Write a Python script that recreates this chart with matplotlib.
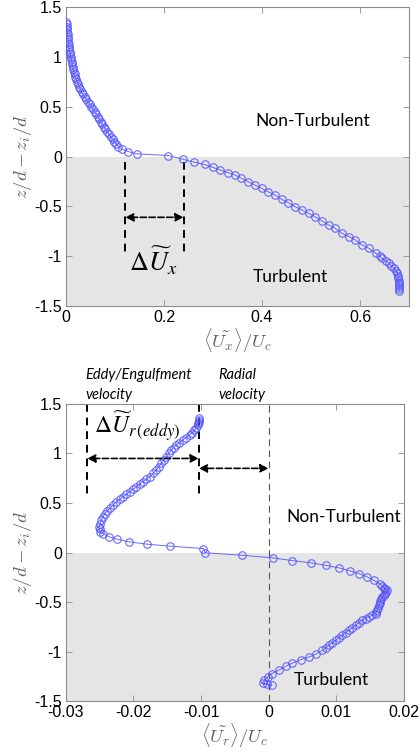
import matplotlib.pyplot as plt
import numpy as np

plt.rcParams['mathtext.fontset'] = 'cm'

BLUE = '#5050ff'
SHADE = '#e5e5e5'
AXCOL = '#8c8c8c'
LABCOL = '#606060'
TEXT_FONT = ['Lato', 'DejaVu Sans']
TICK_FONT = ['Liberation Sans', 'DejaVu Sans']

# top panel: <Ux>/Uc vs z/d - zi/d
ux_z = [1.35, 1.325, 1.30, 1.275, 1.25, 1.225, 1.20, 1.175, 1.15, 1.125, 1.10, 1.075,
        1.05, 1.025, 1.00, 0.975, 0.95, 0.925, 0.90, 0.875, 0.85, 0.825, 0.80, 0.775,
        0.75, 0.725, 0.70, 0.675, 0.65, 0.625, 0.60, 0.575, 0.55, 0.525, 0.50, 0.475,
        0.45, 0.425, 0.40, 0.375, 0.35, 0.325, 0.30, 0.275, 0.25, 0.225, 0.20, 0.175,
        0.15, 0.125, 0.10, 0.074, 0.05, 0.027, 0.01, -0.027, -0.057, -0.08, -0.11,
        -0.134, -0.161, -0.184, -0.218, -0.251, -0.285, -0.318, -0.352, -0.385, -0.429,
        -0.462, -0.502, -0.536, -0.569, -0.603, -0.646, -0.686, -0.72, -0.77, -0.803,
        -0.837, -0.887, -0.921, -0.971, -1.0, -1.021, -1.045, -1.071, -1.095, -1.122,
        -1.145, -1.172, -1.195, -1.222, -1.245, -1.272, -1.292, -1.312, -1.33, -1.346]
ux_val = [0.001, 0.0015, 0.002, 0.0025, 0.003, 0.0035, 0.004, 0.0045, 0.005, 0.0055,
          0.006, 0.007, 0.008, 0.009, 0.010, 0.011, 0.012, 0.013, 0.014, 0.015, 0.016,
          0.0175, 0.019, 0.021, 0.023, 0.025, 0.027, 0.0295, 0.032, 0.035, 0.038, 0.0415,
          0.045, 0.0485, 0.052, 0.0555, 0.059, 0.062, 0.065, 0.068, 0.071, 0.074, 0.077,
          0.0805, 0.084, 0.0875, 0.091, 0.095, 0.099, 0.103, 0.107, 0.114, 0.127, 0.144,
          0.209, 0.238, 0.262, 0.283, 0.30, 0.314, 0.33, 0.344, 0.358, 0.371, 0.385,
          0.399, 0.412, 0.426, 0.44, 0.453, 0.467, 0.481, 0.495, 0.508, 0.522, 0.536,
          0.549, 0.563, 0.577, 0.59, 0.604, 0.618, 0.632, 0.64, 0.645, 0.652, 0.659,
          0.664, 0.669, 0.673, 0.676, 0.677, 0.678, 0.679, 0.679, 0.68, 0.68, 0.68, 0.68]

# bottom panel: <Ur>/Uc vs z/d - zi/d
ur_z = [1.355, 1.338, 1.321, 1.305, 1.288, 1.262, 1.237, 1.211, 1.186, 1.161, 1.136,
        1.11, 1.085, 1.06, 1.035, 1.0, 0.967, 0.933, 0.90, 0.866, 0.832, 0.798, 0.765,
        0.74, 0.715, 0.69, 0.664, 0.638, 0.613, 0.588, 0.563, 0.537, 0.512, 0.478,
        0.445, 0.42, 0.394, 0.36, 0.327, 0.293, 0.26, 0.235, 0.209, 0.192, 0.158, 0.135,
        0.108, 0.084, 0.064, 0.040, -0.003, -0.027, -0.054, -0.081, -0.104, -0.131,
        -0.155, -0.185, -0.212, -0.246, -0.28, -0.32, -0.338, -0.354, -0.368, -0.381,
        -0.398, -0.415, -0.432, -0.448, -0.468, -0.489, -0.511, -0.533, -0.558, -0.583,
        -0.60, -0.617, -0.633, -0.65, -0.667, -0.684, -0.71, -0.735, -0.76, -0.785,
        -0.81, -0.836, -0.861, -0.886, -0.911, -0.937, -0.962, -0.988, -1.028, -1.055,
        -1.082, -1.116, -1.149, -1.19, -1.223, -1.257, -1.291, -1.318, -1.33, -1.341]
ur_val = [-0.01023, -0.01028, -0.01033, -0.0104, -0.01048, -0.0107, -0.01097, -0.0113,
          -0.0117, -0.0122, -0.0127, -0.0132, -0.01367, -0.01405, -0.01441, -0.0148,
          -0.01515, -0.0155, -0.01589, -0.01625, -0.01662, -0.0171, -0.01761, -0.0181,
          -0.01859, -0.0191, -0.01957, -0.02005, -0.02056, -0.02105, -0.02154, -0.02203,
          -0.02252, -0.02302, -0.02351, -0.02388, -0.02425, -0.0245, -0.02474, -0.0249,
          -0.02508, -0.02503, -0.02498, -0.02449, -0.0236, -0.02243, -0.02066, -0.01795,
          -0.01456, -0.00964, -0.00934, -0.00398, 0.00059, 0.00344, 0.00625, 0.00856,
          0.01043, 0.0120, 0.01338, 0.01461, 0.0156, 0.01657, 0.0168, 0.01707, 0.0173,
          0.01756, 0.0174, 0.01731, 0.0171, 0.01682, 0.0167, 0.01657, 0.01645, 0.01633,
          0.0162, 0.01608, 0.01596, 0.01584, 0.01535, 0.01485, 0.01436, 0.01387, 0.01338,
          0.01289, 0.0124, 0.0119, 0.01141, 0.01092, 0.01043, 0.00993, 0.00944, 0.00895,
          0.00846, 0.00797, 0.00698, 0.006, 0.00477, 0.00354, 0.00256, 0.00148, 0.00049,
          -0.00015, -0.00064, -0.00089, -0.0003, 0.00049]

y_ticks = [-1.5, -1, -0.5, 0, 0.5, 1, 1.5]
y_ticklabels = ['-1.5', '-1', '-0.5', '0', '0.5', '1', '1.5']
top_xticks = [0, 0.2, 0.4, 0.6]
top_xticklabels = ['0', '0.2', '0.4', '0.6']
bot_xticks = [-0.03, -0.02, -0.01, 0, 0.01, 0.02]
bot_xticklabels = ['-0.03', '-0.02', '-0.01', '0', '0.01', '0.02']


def style_axes(ax, xlim, xticks, xticklabels, xlabel):
    ax.set_xlim(*xlim)
    ax.set_ylim(-1.5, 1.5)
    ax.axhspan(-1.5, 0, color=SHADE, zorder=0, lw=0)
    ax.set_xticks(xticks)
    ax.set_xticklabels(xticklabels, family=TICK_FONT, fontsize=11.5)
    ax.set_yticks(y_ticks)
    ax.set_yticklabels(y_ticklabels, family=TICK_FONT, fontsize=11.5)
    ax.tick_params(direction='in', top=True, right=True, length=4, width=0.6,
                   color=AXCOL, pad=3)
    for s in ax.spines.values():
        s.set_color(AXCOL)
        s.set_linewidth(0.8)
    ax.set_xlabel(xlabel, fontsize=13.5, color=LABCOL, labelpad=1)
    ax.set_ylabel(r'$z/d-z_i/d$', fontsize=13.5, color=LABCOL, labelpad=0)


def plot_profile(ax, x, z):
    ax.plot(x, z, '-o', color=BLUE, lw=0.7, ms=5.4, mfc='none', mec=BLUE,
            mew=0.8, alpha=0.85, zorder=3)


fig = plt.figure(figsize=(4.2, 7.53), dpi=100)

# ---- top
ax1 = fig.add_axes([0.157, 0.5936, 0.817, 0.3971])
style_axes(ax1, (0, 0.7), top_xticks, top_xticklabels, r'$\langle\tilde{U_x}\rangle/U_c$')
plot_profile(ax1, ux_val, ux_z)
dash = dict(color='black', lw=1.4, ls=(0, (4, 3)))
ax1.plot([0.121, 0.121], [-0.06, -1.0], **dash)
ax1.plot([0.240, 0.240], [-0.06, -1.0], **dash)
ax1.annotate('', xy=(0.121, -0.61), xytext=(0.240, -0.61),
             arrowprops=dict(arrowstyle='<|-|>', color='black', lw=1.2,
                             ls='--', mutation_scale=12, shrinkA=0, shrinkB=0))
ax1.text(0.128, -1.05, r'$\Delta\widetilde{U}_x$', fontsize=19, math_fontfamily='stix',
         ha='left', va='center')
ax1.text(0.386, 0.36, 'Non-Turbulent', fontsize=12.5, family=TEXT_FONT, va='center')
ax1.text(0.381, -1.21, 'Turbulent', fontsize=12.5, family=TEXT_FONT, va='center')

# ---- bottom
ax2 = fig.add_axes([0.157, 0.069, 0.804, 0.3945])
style_axes(ax2, (-0.03, 0.02), bot_xticks, bot_xticklabels, r'$\langle\tilde{U_r}\rangle/U_c$')
ax2.axvline(0, color='#555555', lw=0.8, ls=(0, (6, 4)), zorder=2)
plot_profile(ax2, ur_val, ur_z)
ax2.plot([-0.02685, -0.02685], [1.5, 0.55], clip_on=False, **dash)
ax2.plot([-0.01033, -0.01033], [1.5, 0.57], clip_on=False, **dash)
ax2.annotate('', xy=(-0.02685, 0.95), xytext=(-0.01033, 0.95),
             arrowprops=dict(arrowstyle='<|-|>', color='black', lw=1.2,
                             ls='--', mutation_scale=12, shrinkA=0, shrinkB=0))
ax2.annotate('', xy=(-0.01033, 0.85), xytext=(0, 0.85),
             arrowprops=dict(arrowstyle='<|-|>', color='black', lw=1.2,
                             ls='--', mutation_scale=12, shrinkA=0, shrinkB=0))
ax2.text(-0.0258, 1.28, r'$\Delta\widetilde{U}_{r\,(eddy)}$', fontsize=17,
         math_fontfamily='stix', ha='left', va='center')
ax2.text(-0.0271, 1.52, 'Eddy/Engulfment\nvelocity', fontsize=10.5, style='italic',
         family=TEXT_FONT, ha='left', va='bottom', linespacing=1.55)
ax2.text(-0.0074, 1.52, 'Radial\nvelocity', fontsize=10.5, style='italic',
         family=TEXT_FONT, ha='left', va='bottom', linespacing=1.55)
ax2.text(0.0027, 0.36, 'Non-Turbulent', fontsize=12.5, family=TEXT_FONT, va='center')
ax2.text(0.0038, -1.29, 'Turbulent', fontsize=12.5, family=TEXT_FONT, va='center')

fig.savefig('out.png', dpi=100)
